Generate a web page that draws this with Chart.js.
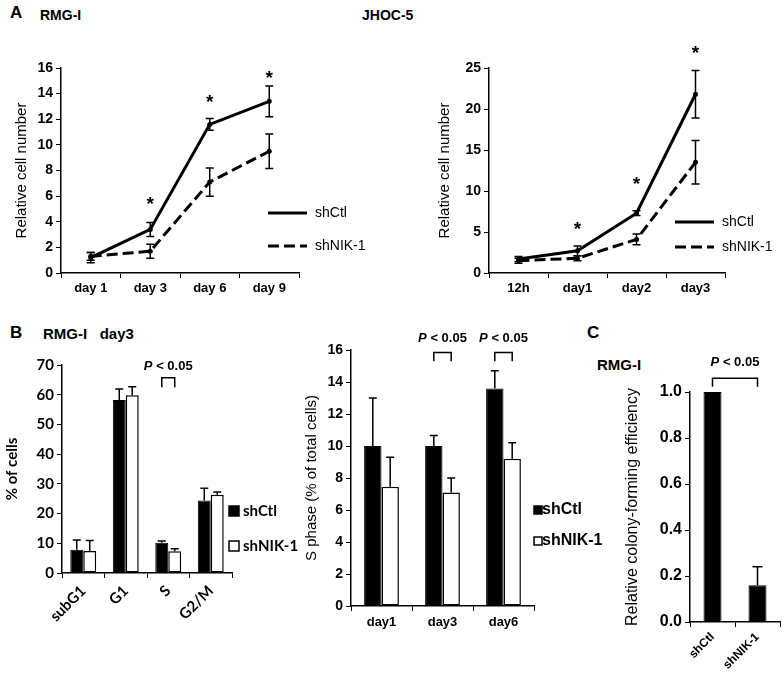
<!DOCTYPE html>
<html>
<head>
<meta charset="utf-8">
<script src="https://cdn.jsdelivr.net/npm/chart.js@4.4.0/dist/chart.umd.min.js"></script>
<style>
body { margin: 0; background: #fff; }
#fig { position: relative; width: 784px; height: 677px; overflow: hidden; font-family: "Liberation Sans", Arial, sans-serif; }
.box { position: absolute; }
.lbl { position: absolute; font-weight: bold; color: #000; white-space: pre; line-height: 1; }
</style>
</head>
<body>
<div id="fig">
  <div class="lbl" style="left:10px;top:4px;font-size:17px">A</div>
  <div class="lbl" style="left:40px;top:8px;font-size:14px">RMG-I</div>
  <div class="lbl" style="left:362px;top:8px;font-size:14px">JHOC-5</div>
  <div class="lbl" style="left:10px;top:324px;font-size:17px">B</div>
  <div class="lbl" style="left:43px;top:326px;font-size:15px">RMG-I   day3</div>
  <div class="lbl" style="left:587px;top:324px;font-size:17px">C</div>
  <div class="lbl" style="left:597px;top:357px;font-size:15px">RMG-I</div>

  <div class="box" style="left:0;top:0;width:392px;height:310px"><canvas id="growthRmg"></canvas></div>
  <div class="box" style="left:392px;top:0;width:392px;height:310px"><canvas id="growthJhoc"></canvas></div>
  <div class="box" style="left:0;top:310px;width:310px;height:367px"><canvas id="cycle"></canvas></div>
  <div class="box" style="left:290px;top:310px;width:320px;height:367px"><canvas id="sphase"></canvas></div>
  <div class="box" style="left:580px;top:310px;width:204px;height:367px"><canvas id="colony"></canvas></div>
</div>

<script>
const ARIAL = '"Liberation Sans", Arial, sans-serif';
const CALIBRI = 'Lato, "Liberation Sans", sans-serif';

// A - growth curves, RMG-I
const rmgDays = ['day 1', 'day 3', 'day 6', 'day 9'];
const rmgCtl = [1.2, 3.4, 11.6, 13.4];
const rmgCtlErr = [0.4, 0.55, 0.45, 1.2];
const rmgNik = [1.3, 1.7, 7.1, 9.5];
const rmgNikErr = [0.3, 0.55, 1.1, 1.35];
const rmgStars = [null, 5.8, 13.7, 15.6];

// A - growth curves, JHOC-5
const jhocDays = ['12h', 'day1', 'day2', 'day3'];
const jhocCtl = [1.7, 2.7, 7.3, 21.8];
const jhocCtlErr = [0.3, 0.6, 0.3, 2.9];
const jhocNik = [1.5, 1.8, 4.1, 13.5];
const jhocNikErr = [0.3, 0.3, 0.65, 2.65];
const jhocStars = [null, 5.9, 11.5, 27.4];

// B - cell cycle phases, RMG-I day3
const phases = ['subG1', 'G1', 'S', 'G2/M'];
const phaseCtl = [7.8, 58.2, 10.2, 24.4];
const phaseCtlErr = [3.3, 3.7, 0.6, 4.1];
const phaseNik = [7.4, 59.8, 7.3, 26.3];
const phaseNikErr = [3.5, 2.9, 0.9, 1.0];

// B - S phase over time
const sDays = ['day1', 'day3', 'day6'];
const sCtl = [10.0, 10.0, 13.6];
const sCtlErr = [3.0, 0.65, 1.1];
const sNik = [7.45, 7.1, 9.2];
const sNikErr = [1.85, 0.9, 1.0];

// C - colony forming
const colonyGroups = ['shCtl', 'shNIK-1'];
const colonyVals = [1.0, 0.16];
const colonyErr = [0, 0.08];

const seriesNames = ['shCtl', 'shNIK-1'];

Chart.defaults.font.family = ARIAL;
Chart.defaults.color = '#000';
Chart.defaults.animation = false;

// error bars, up only for bars, both ways for lines
const errorBars = {
    id: 'errorBars',
    afterDatasetsDraw(chart, args, o) {
        const ctx = chart.ctx;
        const y = chart.scales.y;
        ctx.save();
        ctx.strokeStyle = '#000';
        ctx.lineWidth = o.width || 1.5;
        chart.data.datasets.forEach((ds, di) => {
            if (!ds.errors) return;
            chart.getDatasetMeta(di).data.forEach((el, i) => {
                const e = ds.errors[i];
                if (!e) return;
                const v = ds.data[i];
                const top = y.getPixelForValue(v + e);
                const bot = y.getPixelForValue(o.both ? v - e : v);
                const cap = o.cap || 4;
                ctx.beginPath();
                ctx.moveTo(el.x, top); ctx.lineTo(el.x, bot);
                ctx.moveTo(el.x - cap, top); ctx.lineTo(el.x + cap, top);
                if (o.both) { ctx.moveTo(el.x - cap, bot); ctx.lineTo(el.x + cap, bot); }
                ctx.stroke();
            });
        });
        ctx.restore();
    }
};

// asterisks and P brackets
const marks = {
    id: 'marks',
    afterDraw(chart, args, o) {
        const ctx = chart.ctx;
        const y = chart.scales.y;
        ctx.save();
        ctx.fillStyle = '#000';
        ctx.strokeStyle = '#000';
        (o.stars || []).forEach((v, i) => {
            if (v == null) return;
            const x = chart.getDatasetMeta(0).data[i].x;
            ctx.font = 'bold 19px ' + ARIAL;
            ctx.textAlign = 'center';
            ctx.textBaseline = 'alphabetic';
            ctx.fillText('*', x, y.getPixelForValue(v) + 19 * 0.57);
        });
        (o.brackets || []).forEach(b => {
            const x1 = chart.getDatasetMeta(b.a[0]).data[b.a[1]].x;
            const x2 = chart.getDatasetMeta(b.b[0]).data[b.b[1]].x;
            const yt = y.getPixelForValue(b.top), yl = y.getPixelForValue(b.low);
            ctx.lineWidth = 1.5;
            ctx.beginPath();
            ctx.moveTo(x1, yl); ctx.lineTo(x1, yt); ctx.lineTo(x2, yt); ctx.lineTo(x2, yl);
            ctx.stroke();
            const ty = y.getPixelForValue(b.text);
            const fi = 'italic bold 13px ' + ARIAL, fb = 'bold 13px ' + ARIAL;
            ctx.font = fi; const wP = ctx.measureText('P').width;
            ctx.font = fb; const wR = ctx.measureText(' < 0.05').width;
            const x0 = (x1 + x2) / 2 - (wP + wR) / 2;
            ctx.textAlign = 'left';
            ctx.textBaseline = 'middle';
            ctx.font = fi; ctx.fillText('P', x0, ty);
            ctx.font = fb; ctx.fillText(' < 0.05', x0 + wP, ty);
        });
        ctx.restore();
    }
};

// legends drawn beside the plot
const figLegend = {
    id: 'figLegend',
    afterDraw(chart, args, o) {
        if (!o.items) return;
        const ctx = chart.ctx;
        ctx.save();
        o.items.forEach(it => {
            const ds = chart.data.datasets[it.ds];
            if (o.kind === 'line') {
                ctx.strokeStyle = '#000';
                ctx.lineWidth = ds.borderWidth;
                ctx.setLineDash(ds.borderDash || []);
                ctx.beginPath(); ctx.moveTo(o.x, it.y); ctx.lineTo(o.x + o.len, it.y); ctx.stroke();
                ctx.setLineDash([]);
            } else {
                ctx.fillStyle = ds.backgroundColor;
                ctx.fillRect(o.x, it.y - o.size / 2, o.size, o.size);
                ctx.strokeStyle = '#000';
                ctx.lineWidth = 1.5;
                ctx.strokeRect(o.x, it.y - o.size / 2, o.size, o.size);
            }
            ctx.fillStyle = '#000';
            ctx.font = o.font;
            ctx.textAlign = 'left';
            ctx.textBaseline = 'middle';
            ctx.fillText(ds.label, o.tx, it.y);
        });
        ctx.restore();
    }
};

function axes(cfg) {
    return {
        x: {
            offset: true,
            grid: { display: true, offset: true, drawOnChartArea: false, drawTicks: true, tickLength: 5, color: '#000', lineWidth: 1 },
            border: { display: true, color: '#000', width: 1.5 },
            ticks: {
                font: cfg.xFont, padding: cfg.xPad || 3, autoSkip: false,
                minRotation: cfg.rot || 0, maxRotation: cfg.rot || 0
            },
            afterFit: s => { s.height = cfg.xH; }
        },
        y: {
            min: 0, max: cfg.max,
            grid: { display: true, drawOnChartArea: false, drawTicks: true, tickLength: 5, color: '#000', lineWidth: 1 },
            border: { display: true, color: '#000', width: 1.5 },
            ticks: { stepSize: cfg.step, font: cfg.yFont, padding: 3, callback: cfg.fmt || (v => v) },
            title: { display: true, text: cfg.title, font: cfg.titleFont, padding: { top: cfg.titlePad, bottom: 0 } },
            afterFit: s => { s.width = cfg.yW; }
        }
    };
}

function lineSets(ctl, ctlErr, nik, nikErr) {
    return [
        { label: seriesNames[0], data: ctl, errors: ctlErr, borderColor: '#000', borderWidth: 3,
          pointRadius: 2.5, pointBackgroundColor: '#000', pointBorderWidth: 0, tension: 0 },
        { label: seriesNames[1], data: nik, errors: nikErr, borderColor: '#000', borderWidth: 3, borderDash: [11, 5],
          pointRadius: 2.5, pointBackgroundColor: '#000', pointBorderWidth: 0, tension: 0 }
    ];
}

function barSets(ctl, ctlErr, nik, nikErr, catPct) {
    return [
        { label: seriesNames[0], data: ctl, errors: ctlErr, backgroundColor: '#000', borderColor: '#000',
          borderWidth: 1, categoryPercentage: catPct, barPercentage: 1.0 },
        { label: seriesNames[1], data: nik, errors: nikErr, backgroundColor: '#fff', borderColor: '#000',
          borderWidth: 1.5, borderSkipped: false, categoryPercentage: catPct, barPercentage: 1.0 }
    ];
}

const boldTick = { size: 13, weight: 'bold', family: ARIAL };

new Chart(document.getElementById('growthRmg'), {
    type: 'line',
    data: { labels: rmgDays, datasets: lineSets(rmgCtl, rmgCtlErr, rmgNik, rmgNikErr) },
    options: {
        responsive: true, maintainAspectRatio: false,
        layout: { padding: { left: 0, top: 68, right: 93, bottom: 0 } },
        scales: axes({ max: 16, step: 2, yW: 61, xH: 37, title: 'Relative cell number',
            titleFont: { size: 15, family: ARIAL }, titlePad: 13,
            xFont: boldTick, yFont: { size: 14, weight: 'bold', family: ARIAL } }),
        plugins: {
            legend: { display: false }, tooltip: { enabled: false },
            errorBars: { both: true, cap: 4, width: 1.5 },
            marks: { stars: rmgStars },
            figLegend: { kind: 'line', x: 268, len: 39, tx: 315, font: '14px ' + ARIAL,
                items: [{ ds: 0, y: 213 }, { ds: 1, y: 246 }] }
        }
    },
    plugins: [errorBars, marks, figLegend]
});

new Chart(document.getElementById('growthJhoc'), {
    type: 'line',
    data: { labels: jhocDays, datasets: lineSets(jhocCtl, jhocCtlErr, jhocNik, jhocNikErr) },
    options: {
        responsive: true, maintainAspectRatio: false,
        layout: { padding: { left: 0, top: 68, right: 59, bottom: 0 } },
        scales: axes({ max: 25, step: 5, yW: 97, xH: 37, title: 'Relative cell number',
            titleFont: { size: 15, family: ARIAL }, titlePad: 44,
            xFont: boldTick, yFont: { size: 14, weight: 'bold', family: ARIAL } }),
        plugins: {
            legend: { display: false }, tooltip: { enabled: false },
            errorBars: { both: true, cap: 4, width: 1.5 },
            marks: { stars: jhocStars },
            figLegend: { kind: 'line', x: 283, len: 39, tx: 330, font: '14px ' + ARIAL,
                items: [{ ds: 0, y: 222 }, { ds: 1, y: 247 }] }
        }
    },
    plugins: [errorBars, marks, figLegend]
});

new Chart(document.getElementById('cycle'), {
    type: 'bar',
    data: { labels: phases, datasets: barSets(phaseCtl, phaseCtlErr, phaseNik, phaseNikErr, 0.61) },
    options: {
        responsive: true, maintainAspectRatio: false,
        layout: { padding: { left: 0, top: 55, right: 78, bottom: 0 } },
        scales: axes({ max: 70, step: 10, yW: 62, xH: 104, title: '% of cells', rot: 45, xPad: 4,
            titleFont: { size: 15, weight: 'bold', family: CALIBRI }, titlePad: 3,
            xFont: { size: 15, weight: 'bold', family: CALIBRI }, yFont: { size: 15, weight: 'bold', family: CALIBRI } }),
        plugins: {
            legend: { display: false }, tooltip: { enabled: false },
            errorBars: { cap: 4, width: 1.5 },
            marks: { brackets: [{ a: [0, 2], b: [1, 2], top: 65.7, low: 62.5, text: 69.4 }] },
            figLegend: { kind: 'box', x: 229, size: 10, tx: 243, font: 'bold 15px ' + CALIBRI,
                items: [{ ds: 0, y: 201 }, { ds: 1, y: 236 }] }
        }
    },
    plugins: [errorBars, marks, figLegend]
});

new Chart(document.getElementById('sphase'), {
    type: 'bar',
    data: { labels: sDays, datasets: barSets(sCtl, sCtlErr, sNik, sNikErr, 0.57) },
    options: {
        responsive: true, maintainAspectRatio: false,
        layout: { padding: { left: 0, top: 40, right: 76, bottom: 0 } },
        scales: axes({ max: 16, step: 2, yW: 61, xH: 71, title: 'S phase (% of total cells)', xPad: 4,
            titleFont: { size: 15, family: ARIAL }, titlePad: 13,
            xFont: boldTick, yFont: { size: 14, weight: 'bold', family: ARIAL } }),
        plugins: {
            legend: { display: false }, tooltip: { enabled: false },
            errorBars: { cap: 4, width: 1.5 },
            marks: { brackets: [
                { a: [0, 1], b: [1, 1], top: 15.85, low: 15.3, text: 16.75 },
                { a: [0, 2], b: [1, 2], top: 15.85, low: 15.3, text: 16.75 }
            ] },
            figLegend: { kind: 'box', x: 244, size: 8, tx: 252, font: 'bold 16px ' + ARIAL,
                items: [{ ds: 0, y: 200 }, { ds: 1, y: 231 }] }
        }
    },
    plugins: [errorBars, marks, figLegend]
});

new Chart(document.getElementById('colony'), {
    type: 'bar',
    data: {
        labels: colonyGroups,
        datasets: [{ label: 'colony', data: colonyVals, errors: colonyErr, backgroundColor: '#000',
            borderColor: '#000', borderWidth: 1, categoryPercentage: 0.4, barPercentage: 1.0 }]
    },
    options: {
        responsive: true, maintainAspectRatio: false,
        layout: { padding: { left: 0, top: 82, right: 4, bottom: 0 } },
        scales: axes({ max: 1.0, step: 0.2, yW: 110, xH: 55, title: 'Relative colony-forming efficiency', rot: 45,
            titleFont: { size: 16, family: ARIAL }, titlePad: 43, fmt: v => v.toFixed(1),
            xFont: { size: 12, weight: 'bold', family: ARIAL }, yFont: { size: 16, weight: 'bold', family: ARIAL } }),
        plugins: {
            legend: { display: false }, tooltip: { enabled: false },
            errorBars: { cap: 5, width: 1.5 },
            marks: { brackets: [{ a: [0, 0], b: [0, 1], top: 1.06, low: 1.023, text: 1.127 }] }
        }
    },
    plugins: [errorBars, marks]
});
</script>
</body>
</html>
